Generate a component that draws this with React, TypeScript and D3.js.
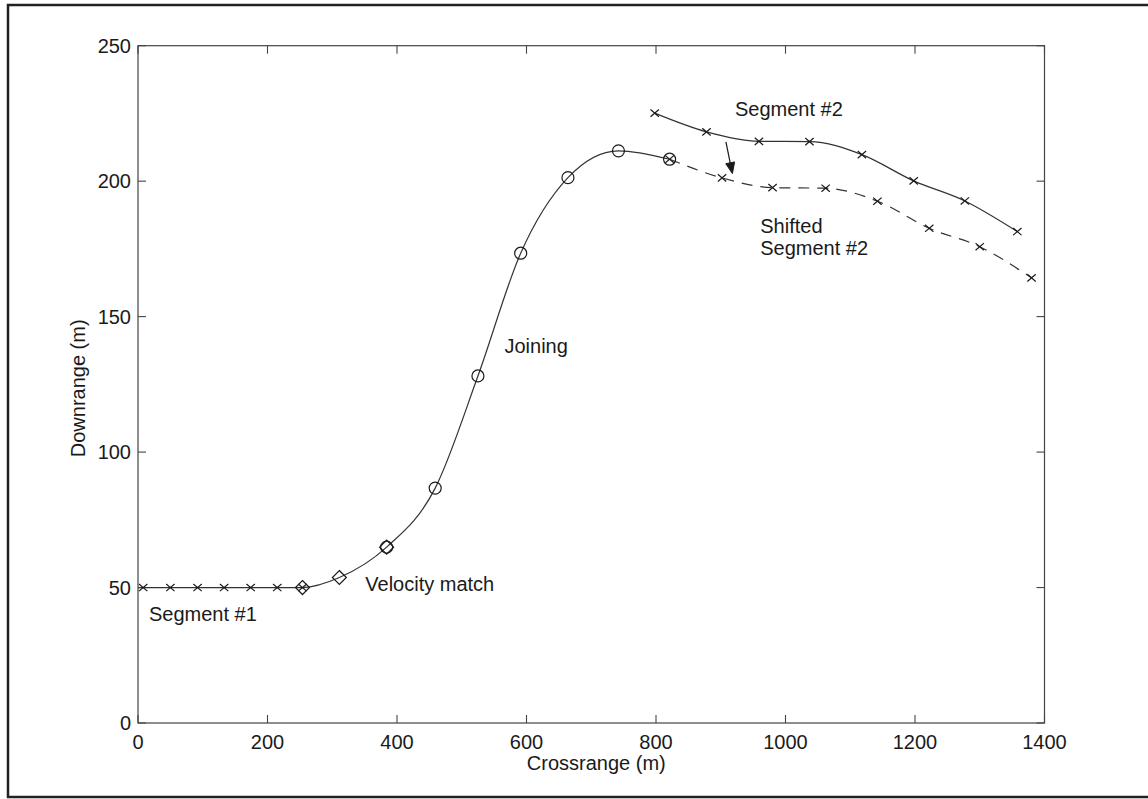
import React from "react";
import * as d3 from "d3";

// ---- Data ----
const xTicks = [0, 200, 400, 600, 800, 1000, 1200, 1400];
const yTicks = [0, 50, 100, 150, 200, 250];

const segment1X = [8, 50, 92, 133, 174, 215, 254];
const segment1Y = [50, 50, 50, 50, 50, 50, 50];

const velocityX = [254, 311, 384];
const velocityY = [50, 53.7, 64.9];

const joiningX = [384, 459, 525, 591, 664, 742, 821];
const joiningY = [64.9, 86.7, 128.1, 173.4, 201.3, 211.2, 208.1];

const segment2X = [798, 878, 959, 1037, 1118, 1198, 1277, 1358];
const segment2Y = [225.1, 218.2, 214.7, 214.6, 209.8, 200.1, 192.7, 181.4];

const shiftedX = [821, 902, 980, 1062, 1142, 1222, 1300, 1380];
const shiftedY = [208.1, 201.2, 197.6, 197.4, 192.6, 182.6, 175.8, 164.3];

const arrowX = [908, 918];
const arrowY = [214.5, 202.8];

const labels = [
  { text: "Segment #1", x: 17, y: 40.2 },
  { text: "Velocity match", x: 351, y: 51.4 },
  { text: "Joining", x: 566, y: 139.2 },
  { text: "Segment #2", x: 922, y: 226.8 },
  { text: "Shifted", x: 961, y: 183.6 },
  { text: "Segment #2", x: 961, y: 175.5 },
];

const W = 1148;
const H = 799;
const PL = 138;
const PR = 1044.5;
const PT = 45.7;
const PB = 723;
const FONT = "'Liberation Sans', Arial, Helvetica, sans-serif";
const INK = "#1a1a1a";
const LINE = "#333";

const zip = (xs: number[], ys: number[]): [number, number][] =>
  xs.map((v, i) => [v, ys[i]]);

export default function App() {
  const x = d3.scaleLinear().domain([0, 1400]).range([PL, PR]);
  const y = d3.scaleLinear().domain([0, 250]).range([PB, PT]);

  const line = d3
    .line<[number, number]>()
    .x((d) => x(d[0]))
    .y((d) => y(d[1]))
    .curve(d3.curveMonotoneX);

  const seg1 = zip(segment1X, segment1Y);
  const vel = zip(velocityX, velocityY);
  const join = zip(joiningX, joiningY);
  const seg2 = zip(segment2X, segment2Y);
  const shifted = zip(shiftedX, shiftedY);

  const mainPath: [number, number][] = [
    [x.domain()[0], segment1Y[0]],
    ...seg1,
    ...vel.slice(1),
    ...join.slice(1),
  ];

  const tick = 8;

  const xMark = (cx: number, cy: number, k: string) => (
    <path
      key={k}
      d={`M${cx - 4.2},${cy - 3.6}L${cx + 4.2},${cy + 3.6}M${cx - 4.2},${cy + 3.6}L${cx + 4.2},${cy - 3.6}`}
      stroke={INK}
      strokeWidth={1.2}
      fill="none"
    />
  );

  // arrow
  const ax0 = x(arrowX[0]);
  const ay0 = y(arrowY[0]);
  const ax1 = x(arrowX[1]);
  const ay1 = y(arrowY[1]);
  const len = Math.hypot(ax1 - ax0, ay1 - ay0);
  const ux = (ax1 - ax0) / len;
  const uy = (ay1 - ay0) / len;
  const hl = 11;
  const hw = 4.5;
  const bx = ax1 - ux * hl;
  const by = ay1 - uy * hl;
  const head = `M${ax1},${ay1}L${bx - uy * hw},${by + ux * hw}L${bx + uy * hw},${by - ux * hw}Z`;

  return (
    <svg
      width={W}
      height={H}
      style={{ position: "absolute", left: 0, top: 0, background: "#fff" }}
      fontFamily={FONT}
    >
      <rect x={0} y={0} width={W} height={H} fill="#fff" />
      {/* outer frame */}
      <rect x={8} y={5} width={1150} height={792} fill="none" stroke="#222" strokeWidth={2.5} />

      {/* plot box */}
      <rect x={PL} y={PT} width={PR - PL} height={PB - PT} fill="none" stroke="#444" strokeWidth={1.2} />

      {/* x ticks */}
      {xTicks.map((t) => (
        <g key={"xt" + t}>
          <line x1={x(t)} x2={x(t)} y1={PB} y2={PB - tick} stroke="#444" strokeWidth={1.1} />
          <line x1={x(t)} x2={x(t)} y1={PT} y2={PT + tick} stroke="#444" strokeWidth={1.1} />
          <text x={x(t)} y={PB + 19} textAnchor="middle" dominantBaseline="central" fontSize={20} fill={INK}>
            {t}
          </text>
        </g>
      ))}
      {/* y ticks */}
      {yTicks.map((t) => (
        <g key={"yt" + t}>
          <line x1={PL} x2={PL + tick} y1={y(t)} y2={y(t)} stroke="#444" strokeWidth={1.1} />
          <line x1={PR} x2={PR - tick} y1={y(t)} y2={y(t)} stroke="#444" strokeWidth={1.1} />
          <text x={PL - 7} y={y(t)} textAnchor="end" dominantBaseline="central" fontSize={20} fill={INK}>
            {t}
          </text>
        </g>
      ))}

      {/* axis titles */}
      <text x={(PL + PR) / 2 + 5} y={763} textAnchor="middle" dominantBaseline="central" fontSize={20} fill={INK}>
        Crossrange (m)
      </text>
      <text
        transform={`translate(78,${(PT + PB) / 2 + 4}) rotate(-90)`}
        textAnchor="middle"
        dominantBaseline="central"
        fontSize={20}
        fill={INK}
      >
        Downrange (m)
      </text>

      {/* curves */}
      <path d={line(mainPath) || ""} fill="none" stroke={LINE} strokeWidth={1.2} />
      <path d={line(seg2) || ""} fill="none" stroke={LINE} strokeWidth={1.2} />
      <path d={line(shifted) || ""} fill="none" stroke={LINE} strokeWidth={1.2} strokeDasharray="11,8" />

      {/* markers */}
      {seg1.map((d, i) => xMark(x(d[0]), y(d[1]), "s1" + i))}
      {seg2.map((d, i) => xMark(x(d[0]), y(d[1]), "s2" + i))}
      {shifted.map((d, i) => xMark(x(d[0]), y(d[1]), "sh" + i))}
      {vel.map((d, i) => {
        const cx = x(d[0]);
        const cy = y(d[1]);
        const r = 7;
        return (
          <path
            key={"v" + i}
            d={`M${cx},${cy - r}L${cx + r},${cy}L${cx},${cy + r}L${cx - r},${cy}Z`}
            fill="none"
            stroke={INK}
            strokeWidth={1.2}
          />
        );
      })}
      {join.map((d, i) => (
        <circle key={"j" + i} cx={x(d[0])} cy={y(d[1])} r={6} fill="none" stroke={INK} strokeWidth={1.2} />
      ))}

      {/* arrow */}
      <line x1={ax0} y1={ay0} x2={bx} y2={by} stroke={INK} strokeWidth={1.2} />
      <path d={head} fill={INK} stroke={INK} strokeWidth={1} />

      {/* annotations */}
      {labels.map((l, i) => (
        <text key={"l" + i} x={x(l.x)} y={y(l.y)} dominantBaseline="central" fontSize={20} fill={INK}>
          {l.text}
        </text>
      ))}
    </svg>
  );
}
